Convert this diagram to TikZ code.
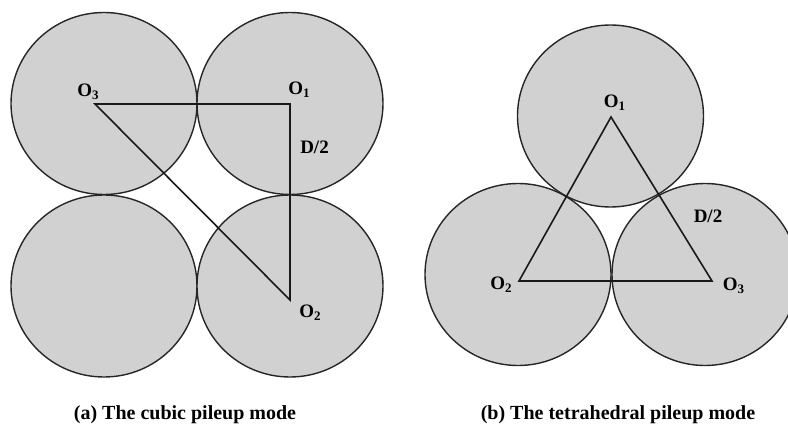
\documentclass[tikz,border=0pt]{standalone}
\usepackage{fontspec}
\setmainfont{Liberation Serif}
\usetikzlibrary{positioning,shapes.geometric}
\definecolor{ballgray}{RGB}{209,209,209}
\newcommand\lowsub[1]{\raisebox{-0.35ex}{\fontsize{13}{13}\selectfont #1}}

\begin{document}
\begin{tikzpicture}[
  x=1pt, y=-1pt,
  ball/.style={ellipse, draw=black!85, fill=ballgray, line width=1.4pt,
               minimum width=186pt, minimum height=182pt, inner sep=0pt},
  lbl/.style={font=\fontsize{19}{22}\selectfont\bfseries, inner sep=0pt},
  capt/.style={font=\fontsize{20}{24}\selectfont\bfseries, inner sep=0pt, anchor=base},
  edge/.style={line width=1.6pt, line join=miter, black!90}]
  \useasboundingbox (0,0) rectangle (788,425);
  \clip (0,0) rectangle (788,425);

  % (a) cubic
  \node[ball] (ca) at (104,103.5) {};
  \node[ball] (cb) at (290,103.5) {};
  \node[ball] (cc) at (104,286) {};
  \node[ball] (cd) at (290,286) {};
  \coordinate (ao3) at (95,104);
  \coordinate (ao1) at (290,104);
  \coordinate (ao2) at (290,300);
  \draw[edge] (ao3) -- (ao1) -- (ao2) -- cycle;
  \node[lbl] (la3) at (88,92) {O\lowsub{3}};
  \node[lbl] (la1) at (299,90) {O\lowsub{1}};
  \node[lbl] (lad) at (314.5,147) {D/2};
  \node[lbl] (la2) at (310,313) {O\lowsub{2}};

  % (b) tetrahedral
  \node[ball] (ta) at (610.5,116) {};
  \node[ball] (tb) at (518,274.5) {};
  \node[ball] (tc) at (705,274.5) {};
  \coordinate (bo1) at (611,117);
  \coordinate (bo2) at (519,281);
  \coordinate (bo3) at (712,281);
  \draw[edge] (bo1) -- (bo2) -- (bo3) -- cycle;
  \node[lbl] (lb1) at (614.5,103) {O\lowsub{1}};
  \node[lbl] (lbd) at (708,216.5) {D/2};
  \node[lbl] (lb2) at (501,285) {O\lowsub{2}};
  \node[lbl] (lb3) at (733.5,286) {O\lowsub{3}};

  \node[capt] (capa) at (185,419) {(a) The cubic pileup mode};
  \node[capt] (capb) at (618,419) {(b) The tetrahedral pileup mode};
\end{tikzpicture}
\end{document}
